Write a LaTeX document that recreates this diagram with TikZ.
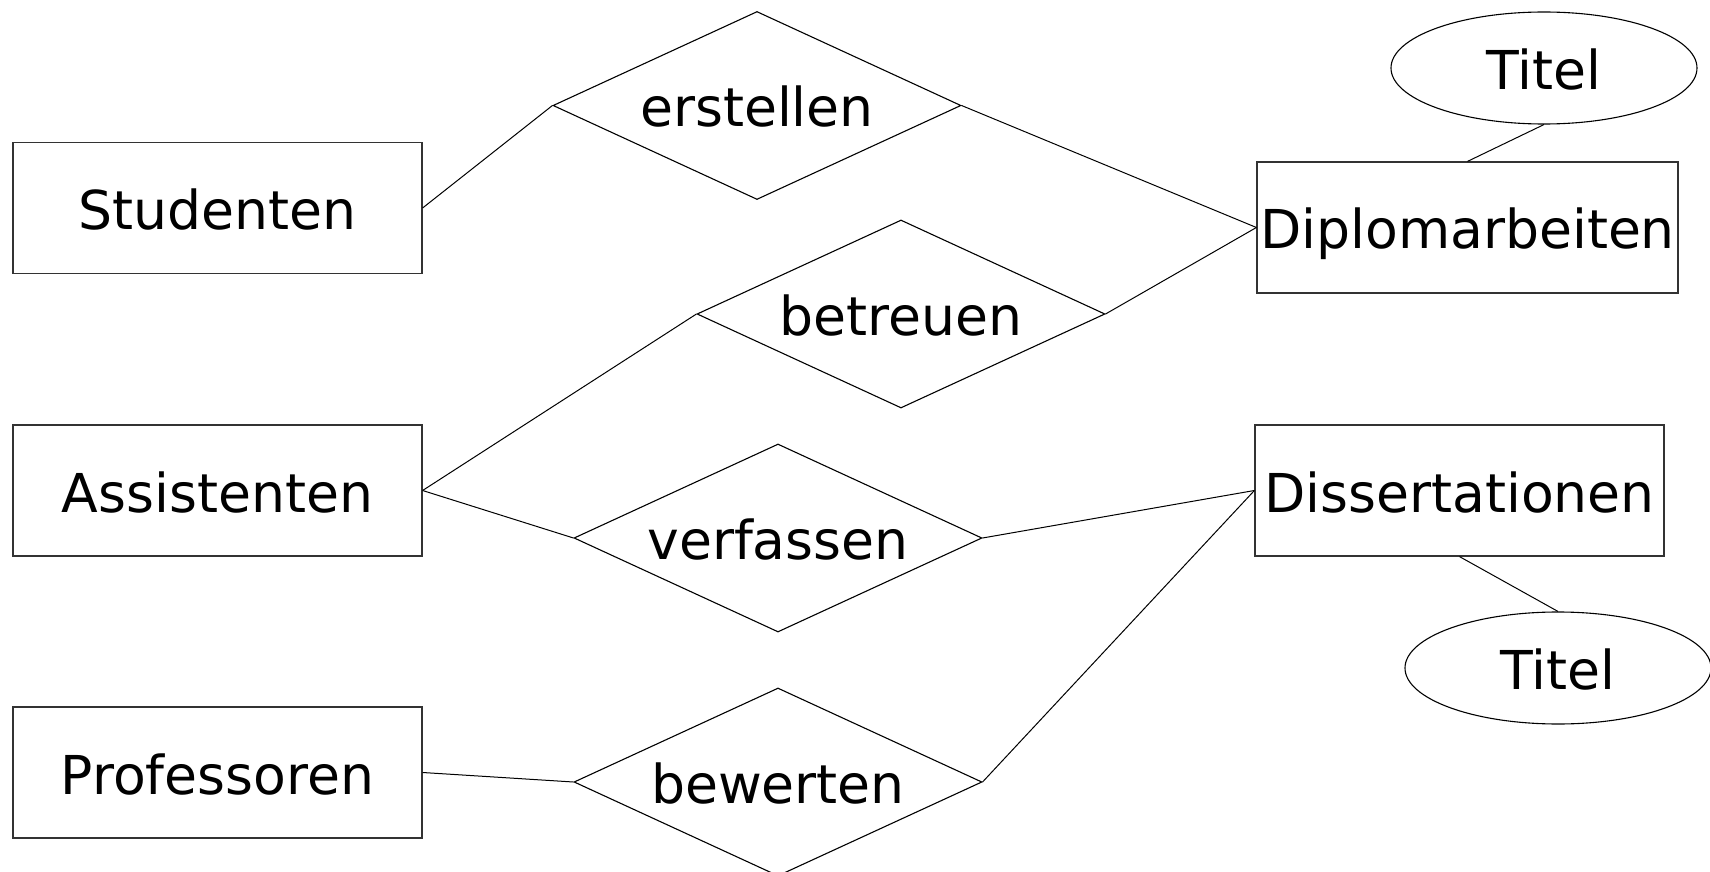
\documentclass[tikz,border=0pt]{standalone}
\usepackage{fontspec}
\setmainfont{DejaVu Sans}
\usetikzlibrary{shapes.geometric}
\begin{document}
\begin{tikzpicture}[x=0.5pt,y=-0.5pt,
  every node/.style={font=\fontsize{26.8pt}{32pt}\selectfont, inner sep=0pt, text height=26pt, text depth=4.5pt},
  entity/.style={draw=black!80, line width=0.6pt, rectangle, minimum width=204.5pt, minimum height=65.5pt},
  rel/.style={draw=black, line width=0.55pt, diamond, aspect=2.17, minimum width=204pt, minimum height=94pt},
  attr/.style={draw=black, line width=0.55pt, ellipse, minimum width=153pt, minimum height=56pt},
  conn/.style={draw=black, line width=0.5pt}]
\useasboundingbox (0,0) rectangle (1710,872);
\node[entity] (stud) at (217.5,208) {Studenten};
\node[entity] (assi) at (217.5,490.5) {Assistenten};
\node[entity] (prof) at (217.5,772.5) {Professoren};
\node[entity, minimum width=210.5pt] (dipl) at (1467.5,227.5) {Diplomarbeiten};
\node[entity] (diss) at (1459.5,490.5) {Dissertationen};
\node[attr] (titel1) at (1544,68) {Titel};
\node[attr] (titel2) at (1558,668) {Titel};
\node[rel] (erst) at (757,105.5) {erstellen};
\node[rel] (betr) at (901,314) {betreuen};
\node[rel] (verf) at (778,538) {verfassen};
\node[rel] (bew) at (778,782) {bewerten};
\draw[conn] (stud.east) -- (erst.west);
\draw[conn] (erst.east) -- (dipl.west);
\draw[conn] (assi.east) -- (betr.west);
\draw[conn] (betr.east) -- (dipl.west);
\draw[conn] (assi.east) -- (verf.west);
\draw[conn] (verf.east) -- (diss.west);
\draw[conn] (prof.east) -- (bew.west);
\draw[conn] (bew.east) -- (diss.west);
\draw[conn] (titel1.south) -- (dipl.north);
\draw[conn] (diss.south) -- (titel2.north);
\end{tikzpicture}
\end{document}
